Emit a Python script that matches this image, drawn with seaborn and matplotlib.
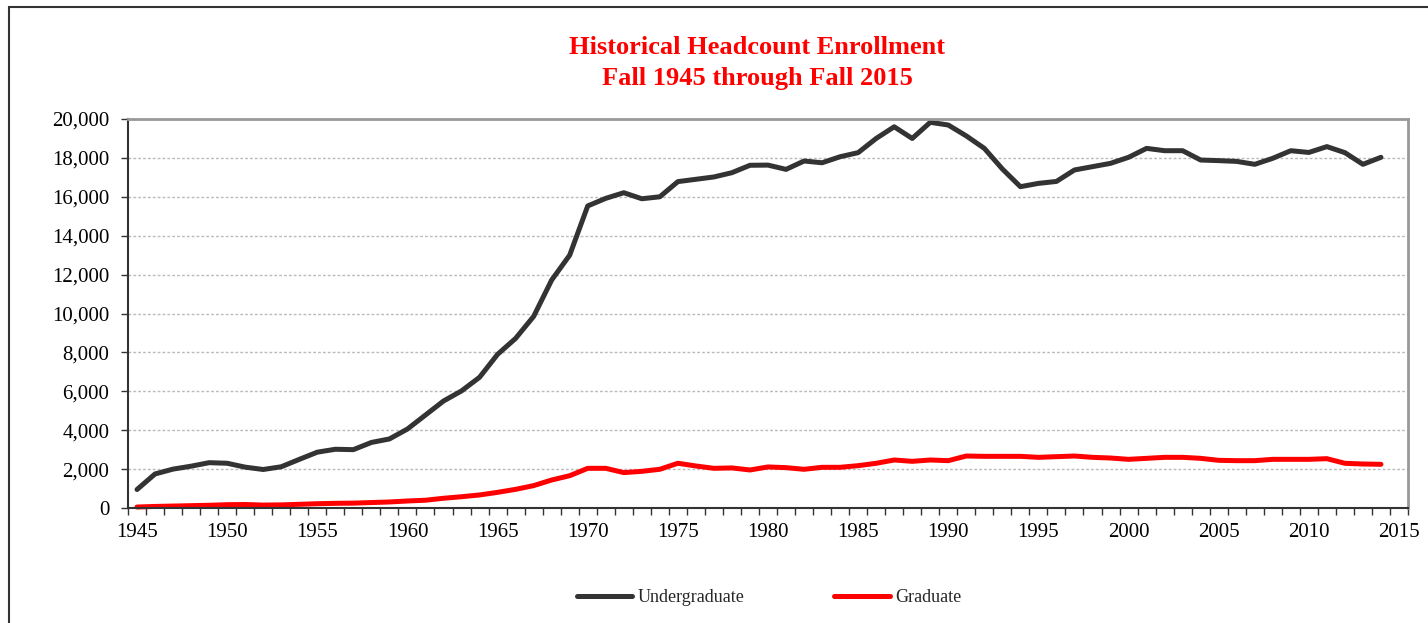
import numpy as np
import pandas as pd
import matplotlib
matplotlib.use("Agg")
import matplotlib.pyplot as plt
import seaborn as sns
from matplotlib.patches import Rectangle
from matplotlib.ticker import FuncFormatter, MultipleLocator

years = list(range(1945, 2015))
undergraduate = [950, 1750, 2000, 2150, 2330, 2300, 2100, 1980, 2120, 2500,
                 2870, 3020, 3000, 3370, 3550, 4060, 4780, 5500, 6020, 6720,
                 7900, 8720, 9850, 11720, 13000, 15530, 15920, 16210, 15900, 16000,
                 16780, 16900, 17020, 17240, 17620, 17630, 17410, 17840, 17750, 18060,
                 18270, 19000, 19600, 19000, 19830, 19690, 19130, 18490, 17430, 16520,
                 16690, 16790, 17380, 17550, 17720, 18030, 18490, 18370, 18370, 17890,
                 17860, 17820, 17670, 17980, 18370, 18280, 18580, 18270, 17670, 18030]
graduate = [50, 80, 100, 120, 140, 170, 180, 150, 160, 190,
            220, 240, 250, 280, 310, 360, 400, 500, 580, 670,
            805, 960, 1150, 1440, 1660, 2040, 2040, 1820, 1885, 1990,
            2300, 2160, 2040, 2060, 1955, 2110, 2075, 1990, 2092, 2092,
            2177, 2298, 2468, 2400, 2468, 2434, 2673, 2656, 2656, 2656,
            2605, 2639, 2673, 2605, 2570, 2502, 2553, 2605, 2605, 2553,
            2451, 2434, 2434, 2502, 2502, 2502, 2536, 2298, 2263, 2246]
series_names = ["Undergraduate", "Graduate"]
series_colors = ["#333333", "#FF0000"]
title_lines = ["Historical Headcount Enrollment", "Fall 1945 through Fall 2015"]

df = pd.DataFrame({
    "Year": years * 2,
    "Headcount": undergraduate + graduate,
    "Level": [series_names[0]] * len(years) + [series_names[1]] * len(years),
})

sns.set_theme(style="white")
plt.rcParams["font.family"] = ["Liberation Serif", "DejaVu Serif"]

fig = plt.figure(figsize=(14.28, 6.23), dpi=100)
ax = fig.add_axes([128 / 1428, 1 - 508 / 623, 1280 / 1428, 389 / 623])

sns.lineplot(data=df, x="Year", y="Headcount", hue="Level",
             palette=dict(zip(series_names, series_colors)),
             linewidth=3.6, ax=ax, legend=False)
for ln in ax.lines:
    ln.set_clip_on(False)
    ln.set_solid_capstyle("round")
    ln.set_solid_joinstyle("round")

ax.set_xlim(1944.5, 2015.5)
ax.set_ylim(0, 20000)
ax.set_xlabel("")
ax.set_ylabel("")

ax.yaxis.set_major_locator(MultipleLocator(2000))
ax.yaxis.set_major_formatter(FuncFormatter(lambda v, p: f"{int(v):,}"))
ax.xaxis.set_major_locator(MultipleLocator(5))
ax.xaxis.set_minor_locator(MultipleLocator(1, offset=0.5))
ax.xaxis.set_major_formatter(FuncFormatter(lambda v, p: f"{int(v)}"))

ax.tick_params(axis="y", which="major", direction="out", length=5, width=1,
               color="#333333", labelsize=15, pad=8.5, left=True, labelcolor="black")
ax.tick_params(axis="x", which="major", length=0, labelsize=15, pad=11,
               labelcolor="black")
ax.tick_params(axis="x", which="minor", direction="out", length=5, width=1,
               color="#333333", bottom=True)

ax.grid(axis="y", linestyle=(0, (2, 1.5)), color="#BBBBBB", linewidth=1)
ax.grid(axis="x", visible=False)

for side in ["left", "bottom"]:
    ax.spines[side].set_color("#333333")
    ax.spines[side].set_linewidth(1.5)
for side in ["top", "right"]:
    ax.spines[side].set_color("#999999")
    ax.spines[side].set_linewidth(2)

fig.text(757 / 1428, 1 - 48 / 623, title_lines[0], color="#FF0000",
         fontsize=19, fontweight="bold", ha="center", va="center")
fig.text(757 / 1428, 1 - 78 / 623, title_lines[1], color="#FF0000",
         fontsize=19, fontweight="bold", ha="center", va="center")

handles = [plt.Line2D([], [], color=c, lw=3.6, solid_capstyle="round") for c in series_colors]
fig.legend(handles, series_names, loc="center", bbox_to_anchor=(769 / 1428, 1 - 598 / 623),
           ncol=2, frameon=False, fontsize=13, handlelength=3.05, handletextpad=0.3,
           columnspacing=5.0)

fig.patches.append(Rectangle((9 / 1428, -0.1), 1.2, 1.1 - 7 / 623,
                             transform=fig.transFigure, fill=False,
                             edgecolor="#333333", linewidth=1.5))

fig.savefig("out.png", dpi=100)
